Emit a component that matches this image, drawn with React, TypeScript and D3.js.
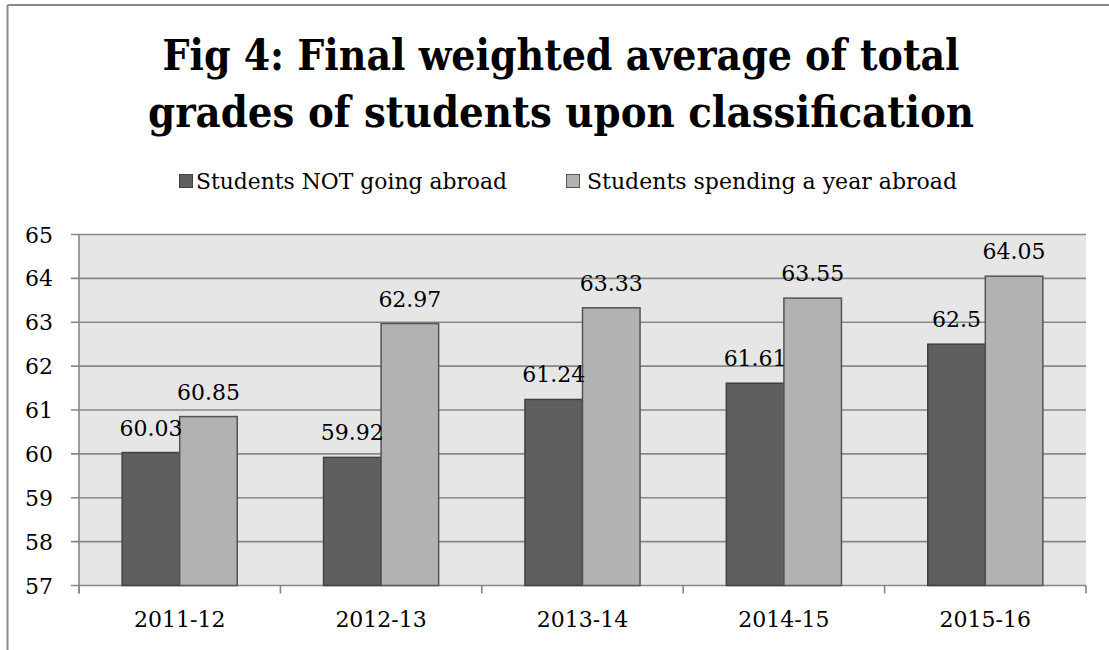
import React from "react";
import * as d3 from "d3";

const categories = ["2011-12", "2012-13", "2013-14", "2014-15", "2015-16"];
const seriesNames = ["Students NOT going abroad", "Students spending a year abroad"];
const notAbroad = [60.03, 59.92, 61.24, 61.61, 62.5];
const yearAbroad = [60.85, 62.97, 63.33, 63.55, 64.05];
const yTicks = [57, 58, 59, 60, 61, 62, 63, 64, 65];
const titleLines = ["Fig 4: Final weighted average of total", "grades of students upon classification"];

const W = 1109;
const H = 650;
const plot = { left: 79, right: 1086, top: 234.5, bottom: 585.5 };
const fills = ["#5f5f5f", "#b2b2b2"];
const strokes = ["#404040", "#555555"];
const FONT = "'DejaVu Serif', 'Liberation Serif', serif";

export default function App() {
  const x = d3.scaleBand<string>().domain(categories).range([plot.left, plot.right]).padding(0);
  const y = d3.scaleLinear().domain([57, 65]).range([plot.bottom, plot.top]);
  const bw = x.bandwidth();
  const barW = bw / 3.5;
  const series = [notAbroad, yearAbroad];
  const boundaries = categories.map((c) => x(c) as number).concat([plot.right]);

  return (
    <svg
      width={W}
      height={H}
      style={{ position: "absolute", left: 0, top: 0, background: "#fff" }}
      fontFamily={FONT}
    >
      <rect x={0} y={0} width={W} height={H} fill="#fff" />
      {/* outer chart border */}
      <line x1={7.5} y1={5} x2={7.5} y2={H} stroke="#8a8a8a" strokeWidth={2} />
      <line x1={7.5} y1={5} x2={W} y2={5} stroke="#8a8a8a" strokeWidth={2} />

      {/* title */}
      {titleLines.map((t, i) => (
        <text
          key={t}
          x={561}
          y={70 + i * 57}
          textAnchor="middle"
          fontFamily="'DejaVu Serif Condensed', 'DejaVu Serif', serif"
          fontWeight="bold"
          fontSize={42}
          fill="#000"
          textLength={i === 0 ? 797 : 826}
          lengthAdjust="spacingAndGlyphs"
        >
          {t}
        </text>
      ))}

      {/* legend */}
      <rect x={179.5} y={174.5} width={13} height={13} fill={fills[0]} stroke={strokes[0]} strokeWidth={1} />
      <text x={196} y={189} fontSize={22} fill="#000" textLength={311} lengthAdjust="spacingAndGlyphs">
        {seriesNames[0]}
      </text>
      <rect x={566.5} y={174.5} width={13} height={13} fill={fills[1]} stroke={strokes[1]} strokeWidth={1} />
      <text x={587} y={189} fontSize={22} fill="#000" textLength={370} lengthAdjust="spacingAndGlyphs">
        {seriesNames[1]}
      </text>

      {/* plot background */}
      <rect x={plot.left} y={plot.top} width={plot.right - plot.left} height={plot.bottom - plot.top} fill="#e6e6e6" />

      {/* gridlines + y ticks */}
      {yTicks.map((t) => (
        <g key={t}>
          <line x1={plot.left - 8} x2={plot.right} y1={y(t)} y2={y(t)} stroke="#878787" strokeWidth={1.6} />
          <text x={53} y={y(t) + 8} textAnchor="end" fontSize={22} fill="#000">
            {t}
          </text>
        </g>
      ))}

      {/* y axis line */}
      <line x1={plot.left} x2={plot.left} y1={plot.top} y2={plot.bottom + 8} stroke="#878787" strokeWidth={1.6} />

      {/* x ticks */}
      {boundaries.map((b, i) => (
        <line key={i} x1={b} x2={b} y1={plot.bottom} y2={plot.bottom + 8} stroke="#878787" strokeWidth={1.6} />
      ))}

      {/* bars */}
      {categories.map((c, ci) =>
        series.map((s, si) => {
          const bx = (x(c) as number) + (bw - 2 * barW) / 2 + si * barW;
          const by = y(s[ci]);
          return (
            <rect
              key={c + si}
              x={bx}
              y={by}
              width={barW}
              height={plot.bottom - by}
              fill={fills[si]}
              stroke={strokes[si]}
              strokeWidth={1.5}
            />
          );
        })
      )}

      {/* data labels */}
      {categories.map((c, ci) =>
        series.map((s, si) => {
          const bx = (x(c) as number) + (bw - 2 * barW) / 2 + si * barW + barW / 2;
          return (
            <text key={"l" + c + si} x={bx} y={y(s[ci]) - 17} textAnchor="middle" fontSize={22} fill="#000">
              {String(s[ci])}
            </text>
          );
        })
      )}

      {/* x labels */}
      {categories.map((c) => (
        <text key={"x" + c} x={(x(c) as number) + bw / 2} y={627} textAnchor="middle" fontSize={22} fill="#000">
          {c}
        </text>
      ))}
    </svg>
  );
}
